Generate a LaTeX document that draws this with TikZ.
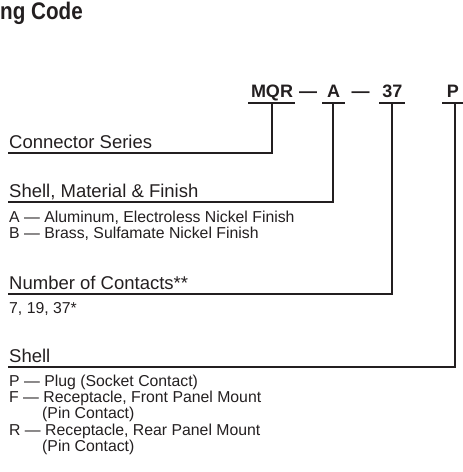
\documentclass[tikz,border=0pt]{standalone}
\usepackage{fontspec}
\setmainfont{Liberation Sans}
\newfontfamily\titlefont[FakeStretch=0.86]{Liberation Sans}
\definecolor{ink}{HTML}{231F20}
\begin{document}
\begin{tikzpicture}[x=1pt,y=-1pt,
  lbl/.style={anchor=base west, inner sep=0pt, font=\fontsize{18.5}{20}\selectfont, text=ink},
  sml/.style={anchor=base west, inner sep=0pt, font=\fontsize{15.8}{16.3}\selectfont, text=ink},
  code/.style={anchor=base, inner sep=0pt, font=\bfseries\fontsize{18}{20}\selectfont, text=ink},
  ln/.style={draw=ink, line width=1.2pt}]
\useasboundingbox (0,0) rectangle (463,472);

% title (cropped)
\node[anchor=base west, inner sep=0pt, text=ink, font=\titlefont\bfseries\fontsize{24}{26}\selectfont] (title) at (0,19) {ng Code};

% code header
\node[code] (mqr) at (272,97) {MQR};
\node[code] (d1) at (308,97) {—};
\node[code] (ca) at (333.5,97) {A};
\node[code] (d2) at (360.5,97) {—};
\node[code] (c37) at (392.5,97) {37};
\node[code] (cp) at (453,97) {P};

% underlines
\coordinate (u1l) at (248,103); \coordinate (u1r) at (295,103); \coordinate (u1m) at (272,103);
\coordinate (u2l) at (322,103); \coordinate (u2r) at (345,103); \coordinate (u2m) at (333,103);
\coordinate (u3l) at (379,103); \coordinate (u3r) at (405,103); \coordinate (u3m) at (392,103);
\coordinate (u4l) at (442,103); \coordinate (u4r) at (463,103); \coordinate (u4m) at (455,103);
\draw[ln] (u1l) -- (u1r);
\draw[ln] (u2l) -- (u2r);
\draw[ln] (u3l) -- (u3r);
\draw[ln] (u4l) -- (u4r);

% labels
\node[lbl] (cs) at (9,148.5) {Connector Series};
\node[lbl] (smf) at (9,197.5) {Shell, Material \& Finish};
\node[sml] (sa) at (9,222) {A — Aluminum, Electroless Nickel Finish};
\node[sml] (sb) at (9,238) {B — Brass, Sulfamate Nickel Finish};
\node[lbl] (noc) at (9,289) {Number of Contacts**};
\node[sml] (nv) at (9,313) {7, 19, 37*};
\node[lbl] (sh) at (9,362) {Shell};
\node[sml] (sp) at (9,386) {P — Plug (Socket Contact)};
\node[sml] (sf) at (9,402) {F — Receptacle, Front Panel Mount};
\node[sml] (sf2) at (42,418) {(Pin Contact)};
\node[sml] (sr) at (9,435) {R — Receptacle, Rear Panel Mount};
\node[sml] (sr2) at (42,451) {(Pin Contact)};

% leader lines
\coordinate (e1) at (8,153);  \coordinate (k1) at (272,153);
\coordinate (e2) at (8,202);  \coordinate (k2) at (333,202);
\coordinate (e3) at (8,294);  \coordinate (k3) at (392,294);
\coordinate (e4) at (8,367);  \coordinate (k4) at (455,367);
\draw[ln] (u1m) -- (k1) -- (e1);
\draw[ln] (u2m) -- (k2) -- (e2);
\draw[ln] (u3m) -- (k3) -- (e3);
\draw[ln] (u4m) -- (k4) -- (e4);
\end{tikzpicture}
\end{document}
